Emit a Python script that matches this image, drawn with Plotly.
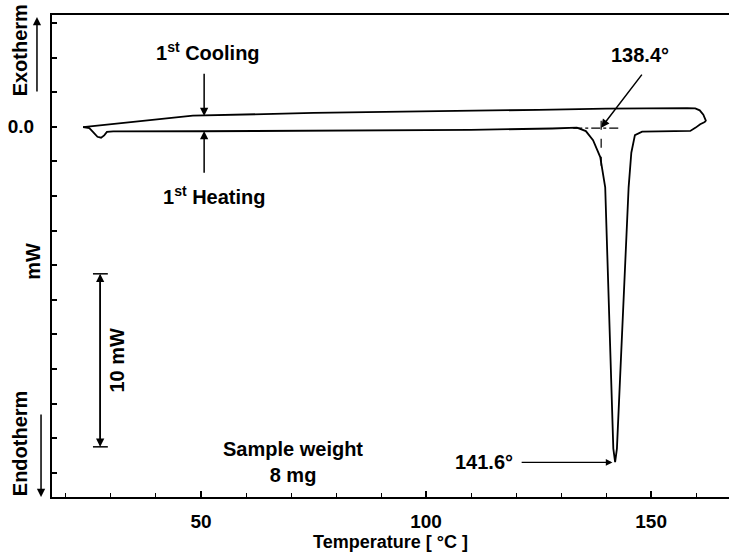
import plotly.graph_objects as go

# 1st heating scan (temperature in °C, heat flow in mW)
heat_T = [23.8, 25.2, 26.2, 27.0, 27.8, 28.5, 29.1, 30.5, 50.0, 80.0, 110.0, 128.0,
          133.5, 135.5, 137.1, 138.7, 139.8, 141.6, 142.0, 142.4, 145.0, 145.6, 146.4,
          148.0, 155.0, 158.7, 159.9, 160.9, 161.7, 162.2]
heat_mW = [-0.02, -0.08, -0.35, -0.58, -0.63, -0.5, -0.3, -0.27, -0.26, -0.24, -0.18, -0.1,
           -0.05, -0.25, -0.78, -1.75, -3.5, -18.6, -19.38, -18.6, -3.5, -1.5, -0.48,
           -0.28, -0.26, -0.24, -0.05, 0.15, 0.25, 0.33]

# 1st cooling scan
cool_T = [162.2, 161.6, 160.8, 159.8, 158.0, 150.0, 140.0, 125.0, 100.0, 75.0, 48.2, 23.8]
cool_mW = [0.33, 0.7, 0.95, 1.06, 1.08, 1.08, 1.05, 0.98, 0.9, 0.8, 0.64, -0.02]

# onset construction
onset_line_T = [132.7, 143.1]
onset_line_mW = [-0.08, -0.08]
onset_drop_T = [138.9, 138.9]
onset_drop_mW = [0.35, -2.3]

x_major = [50, 100, 150]
y_ticks = [6, 4, 2, 0, -2, -4, -6, -8, -10, -12, -14, -16, -18, -20]
y_ticktext = ["" if v != 0 else "0.0" for v in y_ticks]

# 10 mW scale bar
bar_T = 27.6
bar_top, bar_bottom = -8.5, -18.5

FONT = "Liberation Sans, Arial, sans-serif"
BLACK = "#000000"

fig = go.Figure()
fig.add_trace(go.Scatter(x=heat_T, y=heat_mW, mode="lines",
                         line=dict(color=BLACK, width=1.8), name="1st Heating"))
fig.add_trace(go.Scatter(x=cool_T, y=cool_mW, mode="lines",
                         line=dict(color=BLACK, width=1.8), name="1st Cooling"))
fig.add_trace(go.Scatter(x=onset_line_T, y=onset_line_mW, mode="lines",
                         line=dict(color=BLACK, width=1.2, dash="dashdot")))
fig.add_trace(go.Scatter(x=onset_drop_T, y=onset_drop_mW, mode="lines",
                         line=dict(color=BLACK, width=1.2, dash="dash")))

tf = dict(family=FONT, size=20, color=BLACK, weight="bold")
ann = []


def arrow(x, y, ax, ay, width=1.5):
    ann.append(dict(x=x, y=y, ax=ax, ay=ay, xref="x", yref="y", axref="x", ayref="y",
                    text="", showarrow=True, arrowhead=2, arrowsize=1.1,
                    arrowwidth=width, arrowcolor=BLACK, standoff=0))


def side_text(x, y, text, size=20):
    ann.append(dict(x=x, y=y, xref="paper", yref="paper", text=text, textangle=-90,
                    xanchor="center", yanchor="middle", showarrow=False,
                    font=dict(tf, size=size)))


def side_arrow(x, y, ay):
    ann.append(dict(x=x, y=y, xref="paper", yref="paper", ax=0, ay=ay, text="",
                    xanchor="center", yanchor="middle", showarrow=True, arrowhead=2,
                    arrowsize=1.1, arrowwidth=1.5, arrowcolor=BLACK, standoff=0))


# cooling / heating markers
ann.append(dict(x=51.6, y=4.35, xref="x", yref="y", text="1<sup>st</sup> Cooling",
                showarrow=False, font=tf))
arrow(50.7, 0.62, 50.7, 3.15)
ann.append(dict(x=52.9, y=-3.95, xref="x", yref="y", text="1<sup>st</sup> Heating",
                showarrow=False, font=tf))
arrow(50.7, -0.25, 50.7, -2.75)

# onset and peak labels
ann.append(dict(x=147.6, y=4.15, xref="x", yref="y", text="138.4°",
                showarrow=False, font=tf))
arrow(138.9, -0.05, 148.2, 3.1)
ann.append(dict(x=119.8, y=-19.4, xref="x", yref="y", text="141.6°", xanchor="right",
                showarrow=False, font=tf))
arrow(141.4, -19.4, 120.9, -19.4, width=1.2)

# sample weight
ann.append(dict(x=70.4, y=-19.4, xref="x", yref="y", text="Sample weight<br>8 mg",
                showarrow=False, font=tf))

# scale bar: two full-length arrows pointing opposite ways
arrow(bar_T, bar_top, bar_T, bar_bottom)
arrow(bar_T, bar_bottom, bar_T, bar_top)
ann.append(dict(x=31.4, y=(bar_top + bar_bottom) / 2, xref="x", yref="y", text="10 mW",
                textangle=-90, showarrow=False, font=tf))

# exotherm / endotherm indicators and axis unit
side_text(-0.047, 0.927, "Exotherm")
side_arrow(-0.0222, 0.996, 76)
side_text(-0.047, 0.112, "Endotherm")
side_arrow(-0.0162, 0.0, -84)
side_text(-0.028, 0.488, "mW")

shapes = [dict(type="line", xref="x", yref="y", x0=26.0, x1=29.3, y0=v, y1=v,
               line=dict(color=BLACK, width=1.5)) for v in (bar_top, bar_bottom)]

fig.update_layout(
    width=729, height=556,
    margin=dict(l=52, r=0, t=15, b=59, autoexpand=False),
    paper_bgcolor="white", plot_bgcolor="white",
    showlegend=False,
    font=dict(family=FONT, size=19, color=BLACK),
    annotations=ann, shapes=shapes,
    xaxis=dict(range=[16.9, 167.3], tickvals=x_major, showgrid=False, zeroline=False,
               showline=True, linecolor=BLACK, linewidth=2, mirror=True,
               ticks="inside", ticklen=6, tickwidth=1.5, tickcolor=BLACK,
               minor=dict(tick0=0, dtick=10, ticks="inside", ticklen=4, tickwidth=1.2,
                          tickcolor=BLACK, showgrid=False),
               tickfont=dict(family=FONT, size=19, weight="bold"),
               ticklabelstandoff=6, automargin=False,
               title=dict(text="Temperature [ °C ]", standoff=4,
                          font=dict(family=FONT, size=18, weight="bold"))),
    yaxis=dict(range=[-21.4, 6.46], tickvals=y_ticks, ticktext=y_ticktext,
               showgrid=False, zeroline=False, showline=True, linecolor=BLACK,
               linewidth=2, ticks="inside", ticklen=5, tickwidth=1.5, tickcolor=BLACK,
               tickfont=dict(family=FONT, size=19, weight="bold"),
               ticklabelstandoff=12, automargin=False),
)

# drop the default 8px page margin so the 729x556 figure fills the window exactly
fig.write_html("out.html", config={"displayModeBar": False},
               post_script="document.body.style.margin='0';")
